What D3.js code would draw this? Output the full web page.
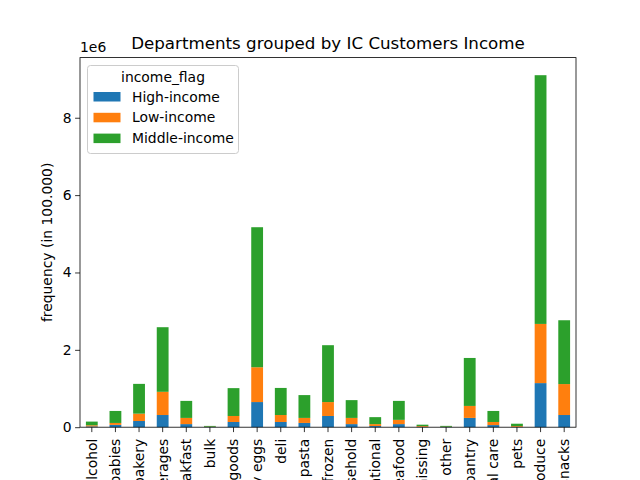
<!DOCTYPE html>
<html>
  <head>
    <meta http-equiv="Content-Type" content="text/html; charset=UTF-8"/>
    <style>
    body { margin: 0; background: #fff; }
    svg text { font-family: "DejaVu Sans", sans-serif; fill: #000; }
    .tick line { stroke: #000; stroke-width: 0.8px; }
    .domain { display: none; }
    </style>
  </head>
  <body>
    <svg id="chart" width="640" height="480"></svg>
    <script src="https://cdn.jsdelivr.net/npm/d3@7"></script>
    <script>
      // departments, in the order pandas sorted them
      var departments = ["alcohol", "babies", "bakery", "beverages", "breakfast", "bulk",
        "canned goods", "dairy eggs", "deli", "dry goods pasta", "frozen", "household",
        "international", "meat seafood", "missing", "other", "pantry", "personal care",
        "pets", "produce", "snacks"];

      // values in millions of order lines
      var highIncome = [0.02, 0.06, 0.16, 0.315, 0.08, 0.005, 0.135, 0.65, 0.135, 0.11, 0.29,
        0.08, 0.03, 0.08, 0.01, 0.005, 0.24, 0.055, 0.01, 1.14, 0.315];
      var lowIncome = [0.03, 0.05, 0.19, 0.6, 0.16, 0.008, 0.155, 0.9, 0.18, 0.13, 0.36,
        0.16, 0.05, 0.11, 0.02, 0.007, 0.31, 0.08, 0.02, 1.53, 0.8];
      var middleIncome = [0.095, 0.31, 0.77, 1.67, 0.44, 0.02, 0.72, 3.62, 0.7, 0.59, 1.47,
        0.46, 0.18, 0.49, 0.035, 0.022, 1.24, 0.285, 0.06, 6.43, 1.65];

      var seriesNames = ["High-income", "Low-income", "Middle-income"];
      var colors = ["#1f77b4", "#ff7f0e", "#2ca02c"];
      var yTicks = [0, 2, 4, 6, 8];

      // plot box (matplotlib default subplot params)
      var mLeft = 80, mRight = 576, mTop = 57.6, mBottom = 427.2;

      var rows = departments.map(function(d, i) {
        return {dept: d, "High-income": highIncome[i], "Low-income": lowIncome[i], "Middle-income": middleIncome[i]};
      });

      var stacked = d3.stack().keys(seriesNames)(rows);
      var maxTotal = d3.max(rows, function(r) { return r["High-income"] + r["Low-income"] + r["Middle-income"]; });

      var x = d3.scaleBand()
          .domain(departments)
          .range([mLeft, mRight])
          .paddingInner(0.5)
          .paddingOuter(0.25);

      var y = d3.scaleLinear()
          .domain([0, maxTotal * 1.05])
          .range([mBottom, mTop]);

      var svg = d3.select('#chart');

      svg.selectAll('g.series')
          .data(stacked)
          .enter()
          .append('g')
          .attr('class', 'series')
          .attr('fill', function(d, i) { return colors[i]; })
          .selectAll('rect')
          .data(function(d) { return d; })
          .enter()
          .append('rect')
          .attr('x', function(d) { return x(d.data.dept); })
          .attr('width', x.bandwidth())
          .attr('y', function(d) { return y(d[1]); })
          .attr('height', function(d) { return y(d[0]) - y(d[1]); });

      // x axis, labels rotated like matplotlib's rot=90
      var xAxis = svg.append('g')
          .attr('transform', 'translate(0,' + mBottom + ')')
          .call(d3.axisBottom(x).tickSize(4.9).tickPadding(3.5));
      xAxis.selectAll('text')
          .style('font-size', '13.9px')
          .attr('transform', 'rotate(-90)')
          .attr('x', -11.5)
          .attr('y', 0)
          .attr('dy', '0.35em')
          .attr('text-anchor', 'end');

      var yAxis = svg.append('g')
          .attr('transform', 'translate(' + mLeft + ',0)')
          .call(d3.axisLeft(y).tickValues(yTicks).tickFormat(d3.format('d')).tickSize(4.9).tickPadding(3.5));
      yAxis.selectAll('text').style('font-size', '13.9px');

      // frame
      svg.append('rect')
          .attr('x', mLeft).attr('y', mTop)
          .attr('width', mRight - mLeft).attr('height', mBottom - mTop)
          .attr('fill', 'none').attr('stroke', '#000').attr('stroke-width', 0.8);

      svg.append('text')
          .attr('x', mLeft).attr('y', mTop - 6)
          .style('font-size', '13.9px')
          .text('1e6');

      svg.append('text')
          .attr('x', (mLeft + mRight) / 2).attr('y', mTop - 9)
          .attr('text-anchor', 'middle')
          .style('font-size', '16.7px')
          .text('Departments grouped by IC Customers Income');

      svg.append('text')
          .attr('transform', 'translate(52,' + ((mTop + mBottom) / 2) + ') rotate(-90)')
          .attr('text-anchor', 'middle')
          .style('font-size', '13.9px')
          .text('frequency (in 100.000)');

      // legend
      var legend = svg.append('g').attr('transform', 'translate(87.5,65.5)');
      legend.append('rect')
          .attr('width', 151).attr('height', 88)
          .attr('rx', 3)
          .attr('fill', '#fff').attr('fill-opacity', 0.8)
          .attr('stroke', '#ccc').attr('stroke-width', 1);
      legend.append('text')
          .attr('x', 75.5).attr('y', 16)
          .attr('text-anchor', 'middle')
          .style('font-size', '13.9px')
          .text('income_flag');
      var items = legend.selectAll('g.item')
          .data(seriesNames)
          .enter()
          .append('g')
          .attr('class', 'item')
          .attr('transform', function(d, i) { return 'translate(6,' + (26.5 + i * 20.8) + ')'; });
      items.append('rect')
          .attr('width', 27).attr('height', 9.5)
          .attr('fill', function(d, i) { return colors[i]; });
      items.append('text')
          .attr('x', 38.5).attr('y', 4.8)
          .attr('dy', '0.35em')
          .style('font-size', '13.9px')
          .text(function(d) { return d; });
    </script>
  </body>
</html>
